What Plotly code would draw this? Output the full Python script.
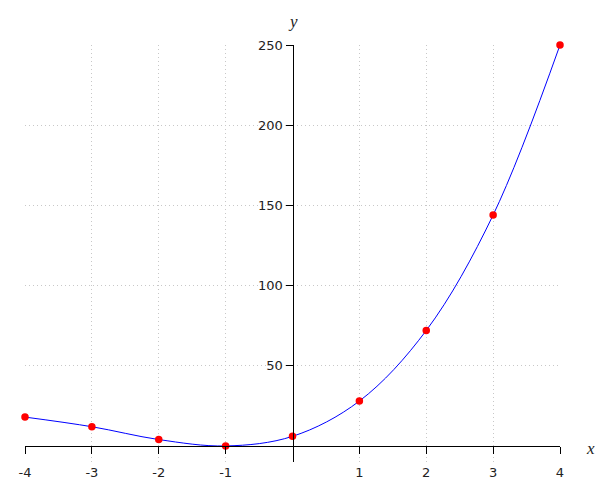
import plotly.graph_objects as go

x_vals = [-4, -3, -2, -1, 0, 1, 2, 3, 4]
y_vals = [18, 12, 4, 0, 6, 28, 72, 144, 250]
x_ticks = [-4, -3, -2, -1, 1, 2, 3, 4]
x_tick_text = ["-4", "-3", "-2", "-1", "1", "2", "3", "4"]
y_ticks = [50, 100, 150, 200, 250]
y_tick_text = ["50", "100", "150", "200", "250"]

fig = go.Figure()
fig.add_trace(go.Scatter(
    x=x_vals, y=y_vals, mode="lines",
    line=dict(color="blue", width=1, shape="spline", smoothing=1),
    hoverinfo="skip", cliponaxis=False))
fig.add_trace(go.Scatter(
    x=x_vals, y=y_vals, mode="markers",
    marker=dict(color="red", size=7.5),
    cliponaxis=False))

ymin, ymax = -10, 250
grid_dash = "1px,3px"
fig.update_layout(
    width=600, height=500,
    margin=dict(l=25, r=40, t=45, b=38),
    paper_bgcolor="white", plot_bgcolor="white",
    showlegend=False,
    font=dict(family="DejaVu Sans", size=13, color="#222"),
    xaxis=dict(
        range=[-4, 4], tickvals=x_ticks, ticktext=x_tick_text,
        showgrid=True, gridcolor="#c8c8c8", griddash=grid_dash, gridwidth=1,
        zeroline=False, showline=True, linecolor="black", linewidth=1,
        ticks="outside", ticklen=7, tickcolor="black",
        anchor="free", position=(0 - ymin) / (ymax - ymin),
        ticklabelstandoff=7, automargin=False,
    ),
    yaxis=dict(
        range=[ymin, ymax], tickvals=y_ticks, ticktext=y_tick_text,
        showgrid=True, gridcolor="#c8c8c8", griddash=grid_dash, gridwidth=1,
        zeroline=False, showline=True, linecolor="black", linewidth=1,
        ticks="outside", ticklen=7, tickcolor="black",
        anchor="free", position=0.5, automargin=False,
    ),
    annotations=[
        dict(text="x", x=1, y=0, xref="paper", yref="y", xanchor="left", yanchor="middle",
             xshift=24, yshift=-3, showarrow=False,
             font=dict(family="Liberation Serif", size=17, color="#222", style="italic")),
        dict(text="y", x=0, y=1, xref="x", yref="paper", xanchor="center", yanchor="bottom",
             yshift=12, showarrow=False,
             font=dict(family="Liberation Serif", size=17, color="#222", style="italic")),
    ],
)
fig.write_html("out.html", config={"displayModeBar": False},
               post_script="document.body.style.margin='0';")
